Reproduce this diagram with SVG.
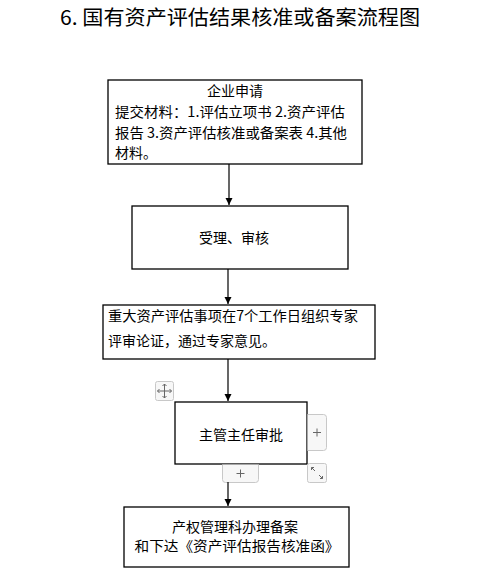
<svg xmlns="http://www.w3.org/2000/svg" width="481" height="588" viewBox="0 0 481 588">
<style>
.box{fill:#fff;stroke:#000;stroke-width:1.3}
.t{font-family:"Noto Sans CJK SC","Liberation Sans",sans-serif;font-size:14px;fill:#000}
.c{text-anchor:middle}
.edge{stroke:#000;stroke-width:1.2;fill:none}
.ui{fill:#f7f7f7;stroke:#c8c8c8;stroke-width:1}
.uil{stroke:#666;stroke-width:1;fill:none}
</style>
<defs>
<marker id="ah" markerWidth="8" markerHeight="8" refX="7" refY="4" orient="auto" markerUnits="userSpaceOnUse">
<path d="M0,0.5 L7,4 L0,7.5 Z" fill="#000"/>
</marker>
</defs>
<rect width="481" height="588" fill="#fff"/>
<text x="60" y="25" textLength="360" lengthAdjust="spacingAndGlyphs" font-family="&quot;Noto Sans CJK SC&quot;,&quot;Liberation Sans&quot;,sans-serif" font-size="20" fill="#000">6. 国有资产评估结果核准或备案流程图</text>

<g id="n1">
<rect class="box" x="108" y="80" width="254" height="84"/>
<text class="t c" x="235" y="96">企业申请</text>
<text class="t" x="115" y="117" textLength="230" lengthAdjust="spacingAndGlyphs">提交材料：1.评估立项书 2.资产评估</text>
<text class="t" x="115" y="138" textLength="232" lengthAdjust="spacingAndGlyphs">报告 3.资产评估核准或备案表 4.其他</text>
<text class="t" x="115" y="158">材料。</text>
</g>
<g id="n2">
<rect class="box" x="132" y="206" width="216" height="63"/>
<text class="t c" x="234" y="243">受理、审核</text>
</g>
<g id="n3">
<rect class="box" x="103" y="305" width="272" height="54"/>
<text class="t" x="108" y="321" textLength="250" lengthAdjust="spacingAndGlyphs">重大资产评估事项在7个工作日组织专家</text>
<text class="t" x="108" y="346">评审论证，通过专家意见。</text>
</g>
<g id="n4">
<rect class="box" x="175" y="402" width="132" height="62"/>
<text class="t c" x="241" y="440">主管主任审批</text>
</g>
<g id="n5">
<rect class="box" x="124" y="507" width="225" height="60"/>
<text class="t c" x="235" y="532">产权管理科办理备案</text>
<text class="t c" x="237" y="551" textLength="205" lengthAdjust="spacingAndGlyphs">和下达《资产评估报告核准函》</text>
</g>

<g id="ui">
<rect class="ui" x="155.5" y="381.5" width="18" height="19" rx="2"/>
<path class="uil" d="M164.5,384 V398 M157.5,391 H171.5 M162.5,386 L164.5,384 L166.5,386 M162.5,396 L164.5,398 L166.5,396 M159.5,389 L157.5,391 L159.5,393 M169.5,389 L171.5,391 L169.5,393"/>
<path class="ui" d="M307.5,414.5 H323.5 Q326.5,414.5 326.5,417.5 V447.5 Q326.5,450.5 323.5,450.5 H307.5"/>
<path class="uil" d="M313,432.5 H321 M317,428.5 V436.5"/>
<path class="ui" d="M222.5,464.5 V479.5 Q222.5,482.5 225.5,482.5 H255.5 Q258.5,482.5 258.5,479.5 V464.5"/>
<path class="uil" d="M236.5,473.5 H244.5 M240.5,469.5 V477.5"/>
<rect class="ui" x="307.5" y="463.5" width="19" height="19" rx="2"/>
<path class="uil" d="M311.5,467.5 L315,471 M311.5,467.5 H314 M311.5,467.5 V470 M322.5,478.5 L319,475 M322.5,478.5 H320 M322.5,478.5 V476"/>
</g>

<g id="edges">
<line class="edge" x1="229" y1="164" x2="229" y2="205" marker-end="url(#ah)"/>
<line class="edge" x1="228" y1="269" x2="228" y2="304" marker-end="url(#ah)"/>
<line class="edge" x1="228" y1="359" x2="228" y2="401" marker-end="url(#ah)"/>
<line class="edge" x1="228" y1="482" x2="228" y2="506" marker-end="url(#ah)"/>
</g>
</svg>
